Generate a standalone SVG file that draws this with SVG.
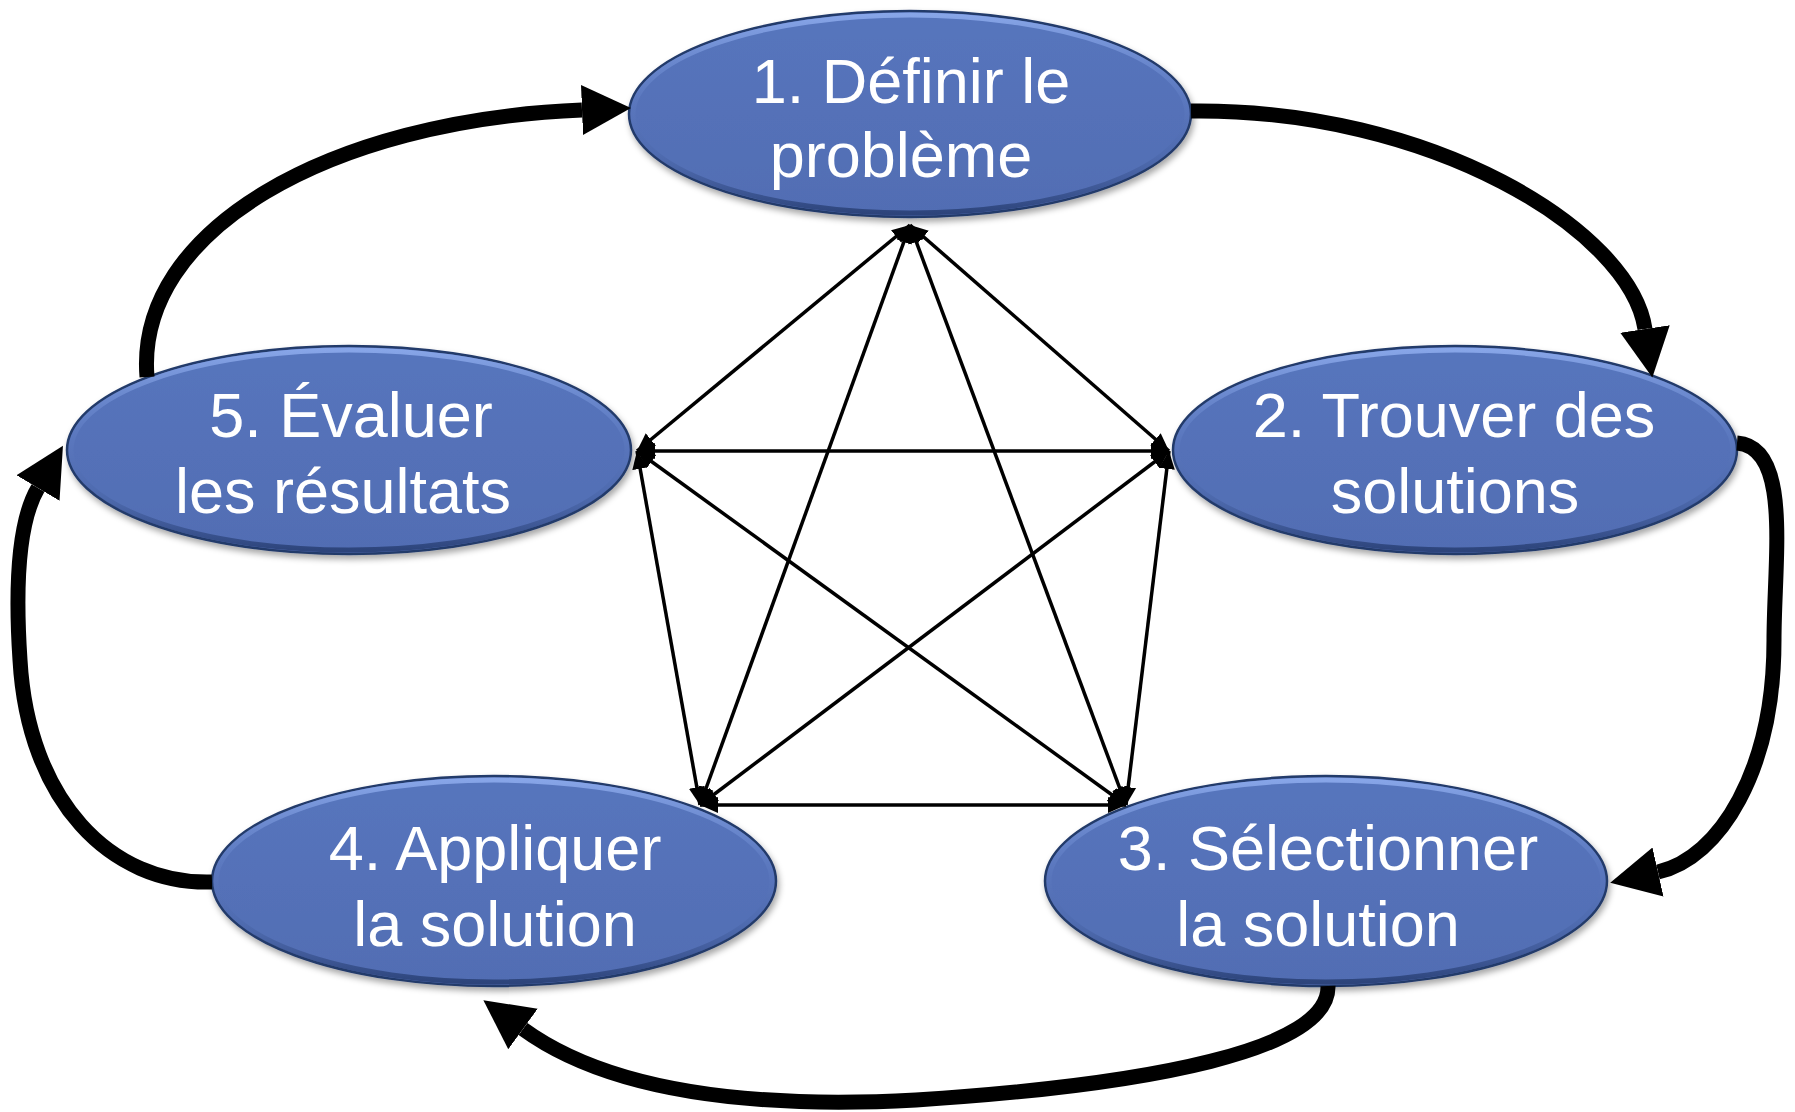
<svg xmlns="http://www.w3.org/2000/svg" width="1795" height="1112" viewBox="0 0 1795 1112">
<defs>
<style>
.node-shape{fill:url(#fillG);stroke:#243a6a;stroke-width:2.5;filter:url(#shadow)}
.bevel{fill:none;stroke:url(#bevelG);stroke-width:5}
.label{font-family:"Liberation Sans",Arial,sans-serif;font-size:63px;fill:#ffffff;text-anchor:middle}
.thick{fill:none;stroke:#000;stroke-width:15;marker-end:url(#bigHead)}
.thin{fill:none;stroke:#000;stroke-width:3.5;marker-start:url(#smallHeadS);marker-end:url(#smallHead)}
</style>
<linearGradient id="fillG" x1="0" y1="0" x2="0" y2="1">
<stop offset="0" stop-color="#5775bd"/>
<stop offset="1" stop-color="#516db3"/>
</linearGradient>
<linearGradient id="bevelG" x1="0" y1="0" x2="0" y2="1">
<stop offset="0" stop-color="#8aa8ea" stop-opacity="0.95"/>
<stop offset="0.45" stop-color="#6d8bd0" stop-opacity="0.2"/>
<stop offset="0.7" stop-color="#3f5a98" stop-opacity="0.2"/>
<stop offset="1" stop-color="#2b4278" stop-opacity="0.95"/>
</linearGradient>
<filter id="shadow" x="-10%" y="-10%" width="120%" height="130%">
<feDropShadow dx="2" dy="4" stdDeviation="3" flood-color="#000" flood-opacity="0.35"/>
</filter>
<marker id="bigHead" markerUnits="userSpaceOnUse" markerWidth="52" markerHeight="54" refX="0" refY="27" orient="auto" viewBox="0 0 52 54">
<path d="M0,2 L49,27 L0,52 Z" fill="#000"/>
</marker>
<marker id="smallHead" markerUnits="userSpaceOnUse" markerWidth="20" markerHeight="18" refX="18" refY="9" orient="auto" viewBox="0 0 20 18">
<path d="M0,1 L18,9 L0,17 Z" fill="#000"/>
</marker>
<marker id="smallHeadS" markerUnits="userSpaceOnUse" markerWidth="20" markerHeight="18" refX="2" refY="9" orient="auto" viewBox="0 0 20 18">
<path d="M20,1 L2,9 L20,17 Z" fill="#000"/>
</marker>
</defs>
<rect width="1795" height="1112" fill="#ffffff"/>

<g id="node1">
<ellipse class="node-shape" cx="910" cy="114" rx="281" ry="103"/>
<ellipse class="bevel" cx="910" cy="114" rx="277" ry="99"/>
<text class="label" x="911" y="103">1. Définir le</text>
<text class="label" x="901" y="177">problème</text>
</g>
<g id="node2">
<ellipse class="node-shape" cx="1455" cy="450" rx="282" ry="104"/>
<ellipse class="bevel" cx="1455" cy="450" rx="278" ry="100"/>
<text class="label" x="1454" y="437">2. Trouver des</text>
<text class="label" x="1455" y="513">solutions</text>
</g>
<g id="node3">
<ellipse class="node-shape" cx="1326" cy="881" rx="281" ry="105"/>
<ellipse class="bevel" cx="1326" cy="881" rx="277" ry="101"/>
<text class="label" x="1328" y="870">3. Sélectionner</text>
<text class="label" x="1318" y="946">la solution</text>
</g>
<g id="node4">
<ellipse class="node-shape" cx="494" cy="881" rx="282" ry="105"/>
<ellipse class="bevel" cx="494" cy="881" rx="278" ry="101"/>
<text class="label" x="495" y="870">4. Appliquer</text>
<text class="label" x="495" y="946">la solution</text>
</g>
<g id="node5">
<ellipse class="node-shape" cx="349" cy="450" rx="282" ry="104"/>
<ellipse class="bevel" cx="349" cy="450" rx="278" ry="100"/>
<text class="label" x="351" y="437">5. Évaluer</text>
<text class="label" x="343" y="513">les résultats</text>
</g>

<g id="connectors">
<path class="thick" d="M1191,111 C1430,108 1630,230 1645,329"/>
<path class="thick" d="M1737,443 C1792,447 1774,560 1774,640 C1774,770 1720,858 1658,872"/>
<path class="thick" d="M1328,986 C1330,1050 1150,1085 916,1100 C730,1110 600,1085 523,1029"/>
<path class="thick" d="M212,882 C110,885 28,800 20,660 C14,570 22,515 38,488"/>
<path class="thick" d="M147,377 C135,230 330,120 582,110"/>

<line class="thin" x1="910" y1="225" x2="637" y2="451"/>
<line class="thin" x1="910" y1="225" x2="1169" y2="451"/>
<line class="thin" x1="910" y1="225" x2="700" y2="805"/>
<line class="thin" x1="910" y1="225" x2="1126" y2="805"/>
<line class="thin" x1="637" y1="451" x2="1169" y2="451"/>
<line class="thin" x1="637" y1="451" x2="700" y2="805"/>
<line class="thin" x1="637" y1="451" x2="1126" y2="805"/>
<line class="thin" x1="1169" y1="451" x2="700" y2="805"/>
<line class="thin" x1="1169" y1="451" x2="1126" y2="805"/>
<line class="thin" x1="700" y1="805" x2="1126" y2="805"/>
</g>
</svg>
